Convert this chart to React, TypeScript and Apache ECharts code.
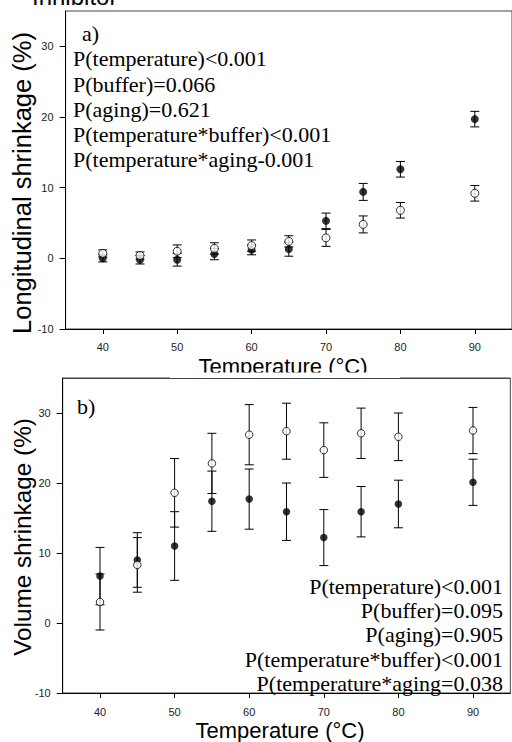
import React, { useEffect, useRef } from 'react';
import * as echarts from 'echarts';

const temperatures = [40, 45, 50, 55, 60, 65, 70, 75, 80, 90];

const longFilled = [0.0, -0.2, -0.2, 0.6, 1.2, 1.3, 5.3, 9.4, 12.6, 19.7];
const longFilledErr = [0.5, 0.6, 0.9, 0.8, 0.7, 1.0, 1.1, 1.2, 1.1, 1.1];
const longOpen = [0.7, 0.4, 1.0, 1.4, 1.8, 2.4, 2.9, 4.8, 6.8, 9.2];
const longOpenErr = [0.5, 0.5, 0.9, 0.8, 0.8, 0.8, 1.2, 1.2, 1.1, 1.1];

const volFilled = [6.7, 9.0, 11.0, 17.4, 17.7, 15.9, 12.2, 15.9, 17.0, 20.1];
const volFilledErr = [4.1, 3.9, 4.9, 4.3, 4.3, 4.1, 4.0, 3.6, 3.4, 3.3];
const volOpen = [3.0, 8.3, 18.6, 22.8, 26.9, 27.4, 24.7, 27.1, 26.6, 27.5];
const volOpenErr = [4.0, 3.9, 4.9, 4.3, 4.3, 4.0, 3.9, 3.6, 3.4, 3.3];

const xTicks = [40, 50, 60, 70, 80, 90];
const yTicks = [-10, 0, 10, 20, 30];

const pTextsA = [
  'P(temperature)<0.001',
  'P(buffer)=0.066',
  'P(aging)=0.621',
  'P(temperature*buffer)<0.001',
  'P(temperature*aging-0.001',
];
const pTextsB = [
  'P(temperature)<0.001',
  'P(buffer)=0.095',
  'P(aging)=0.905',
  'P(temperature*buffer)<0.001',
  'P(temperature*aging=0.038',
];

const SANS = 'Liberation Sans, Arial, sans-serif';
const SERIF = 'Liberation Serif, Times New Roman, serif';

const errRender = (params: any, api: any) => {
  const x = api.value(0);
  const y = api.value(1);
  const e = api.value(2);
  const top = api.coord([x, y + e]);
  const bot = api.coord([x, y - e]);
  const w = 4.5;
  const style = { stroke: '#000', lineWidth: 1 };
  return {
    type: 'group',
    children: [
      { type: 'line', shape: { x1: top[0], y1: top[1], x2: bot[0], y2: bot[1] }, style },
      { type: 'line', shape: { x1: top[0] - w, y1: top[1], x2: top[0] + w, y2: top[1] }, style },
      { type: 'line', shape: { x1: bot[0] - w, y1: bot[1], x2: bot[0] + w, y2: bot[1] }, style },
    ],
  };
};

const zip3 = (v: number[], e: number[]) => temperatures.map((t, i) => [t, v[i], e[i]]);
const zip2 = (v: number[]) => temperatures.map((t, i) => [t, v[i]]);

const makeX = (gridIndex: number, margin: number) => ({
  type: 'value',
  gridIndex,
  min: 35,
  max: 95,
  axisLine: { show: true, onZero: false, lineStyle: { color: '#000', width: 1 } },
  axisTick: { show: true, length: 5, customValues: xTicks, lineStyle: { color: '#000' } },
  axisLabel: { customValues: xTicks, fontSize: 11, color: '#222', margin, fontFamily: SANS },
  splitLine: { show: false },
});

const makeY = (gridIndex: number) => ({
  type: 'value',
  gridIndex,
  min: -10,
  max: 35,
  axisLine: { show: true, onZero: false, lineStyle: { color: '#000', width: 1 } },
  axisTick: { show: true, length: 6, customValues: yTicks, lineStyle: { color: '#000' } },
  axisLabel: { customValues: yTicks, fontSize: 11, color: '#222', margin: 12, fontFamily: SANS },
  splitLine: { show: false },
});

export default function App() {
  const ref = useRef<HTMLDivElement>(null);
  useEffect(() => {
    const chart = echarts.init(ref.current!, null, { renderer: 'svg' });
    const filledStyle = { color: '#000' };
    const openStyle = { color: '#fff', borderColor: '#000', borderWidth: 1 };
    const graphics: any[] = [
      {
        type: 'text', x: 32, y: -4,
        style: { text: 'Inhibitor', fontSize: 24, fontFamily: SANS, fill: '#000', textAlign: 'left', textVerticalAlign: 'middle' },
      },
      {
        type: 'text', x: 22, y: 183, rotation: Math.PI / 2,
        style: { text: 'Longitudinal shrinkage (%)', fontSize: 25.5, fontFamily: SANS, fill: '#000', textAlign: 'center', textVerticalAlign: 'middle' },
      },
      {
        type: 'text', x: 22, y: 537, rotation: Math.PI / 2,
        style: { text: 'Volume shrinkage (%)', fontSize: 24.3, fontFamily: SANS, fill: '#000', textAlign: 'center', textVerticalAlign: 'middle' },
      },
      {
        type: 'text', x: 283, y: 366,
        style: { text: 'Temperature (°C)', fontSize: 22, fontFamily: SANS, fill: '#000', textAlign: 'center', textVerticalAlign: 'middle' },
      },
      {
        type: 'rect', z: 100, shape: { x: 170, y: 372.5, width: 230, height: 16 }, style: { fill: '#fff' },
      },
      {
        type: 'line', z: 101, shape: { x1: 62.7, y1: 378.5, x2: 510.3, y2: 378.5 }, style: { stroke: '#444', lineWidth: 1 },
      },
      {
        type: 'text', x: 280, y: 730,
        style: { text: 'Temperature (°C)', fontSize: 22, fontFamily: SANS, fill: '#000', textAlign: 'center', textVerticalAlign: 'middle' },
      },
      {
        type: 'text', x: 82, y: 33,
        style: { text: 'a)', fontSize: 22, fontFamily: SERIF, fill: '#000', textAlign: 'left', textVerticalAlign: 'middle' },
      },
      {
        type: 'text', x: 77, y: 406,
        style: { text: 'b)', fontSize: 22, fontFamily: SERIF, fill: '#000', textAlign: 'left', textVerticalAlign: 'middle' },
      },
    ];
    const aY = [58, 84, 109, 134, 159];
    pTextsA.forEach((t, i) => {
      graphics.push({
        type: 'text', x: 73, y: aY[i],
        style: { text: t, fontSize: 22, fontFamily: SERIF, fill: '#000', textAlign: 'left', textVerticalAlign: 'middle' },
      });
    });
    const bY = [586, 610, 634, 659, 683];
    pTextsB.forEach((t, i) => {
      graphics.push({
        type: 'text', x: 503, y: bY[i],
        style: { text: t, fontSize: 22, fontFamily: SERIF, fill: '#000', textAlign: 'right', textVerticalAlign: 'middle' },
      });
    });

    chart.setOption({
      animation: false,
      backgroundColor: '#fff',
      grid: [
        { left: 65.6, top: 11, width: 448.4, height: 318, show: true, borderColor: '#444', borderWidth: 1, containLabel: false },
        { left: 62.7, top: 378, width: 447.6, height: 315, show: true, borderColor: '#444', borderWidth: 1, containLabel: false },
      ],
      xAxis: [makeX(0, 12), makeX(1, 13)],
      yAxis: [makeY(0), makeY(1)],
      series: [
        { type: 'custom', xAxisIndex: 0, yAxisIndex: 0, renderItem: errRender, data: zip3(longFilled, longFilledErr), z: 2 },
        { type: 'custom', xAxisIndex: 0, yAxisIndex: 0, renderItem: errRender, data: zip3(longOpen, longOpenErr), z: 2 },
        { type: 'scatter', xAxisIndex: 0, yAxisIndex: 0, data: zip2(longFilled), symbol: 'circle', symbolSize: 8, itemStyle: filledStyle, z: 3 },
        { type: 'scatter', xAxisIndex: 0, yAxisIndex: 0, data: zip2(longOpen), symbol: 'circle', symbolSize: 8, itemStyle: openStyle, z: 4 },
        { type: 'custom', xAxisIndex: 1, yAxisIndex: 1, renderItem: errRender, data: zip3(volFilled, volFilledErr), z: 2 },
        { type: 'custom', xAxisIndex: 1, yAxisIndex: 1, renderItem: errRender, data: zip3(volOpen, volOpenErr), z: 2 },
        { type: 'scatter', xAxisIndex: 1, yAxisIndex: 1, data: zip2(volFilled), symbol: 'circle', symbolSize: 7.5, itemStyle: filledStyle, z: 3 },
        { type: 'scatter', xAxisIndex: 1, yAxisIndex: 1, data: zip2(volOpen), symbol: 'circle', symbolSize: 7.5, itemStyle: openStyle, z: 4 },
      ],
      graphic: graphics,
    });
    return () => chart.dispose();
  }, []);
  return (
    <div
      ref={ref}
      style={{ position: 'fixed', left: 0, top: 0, width: 512, height: 742, background: '#fff' }}
    />
  );
}
